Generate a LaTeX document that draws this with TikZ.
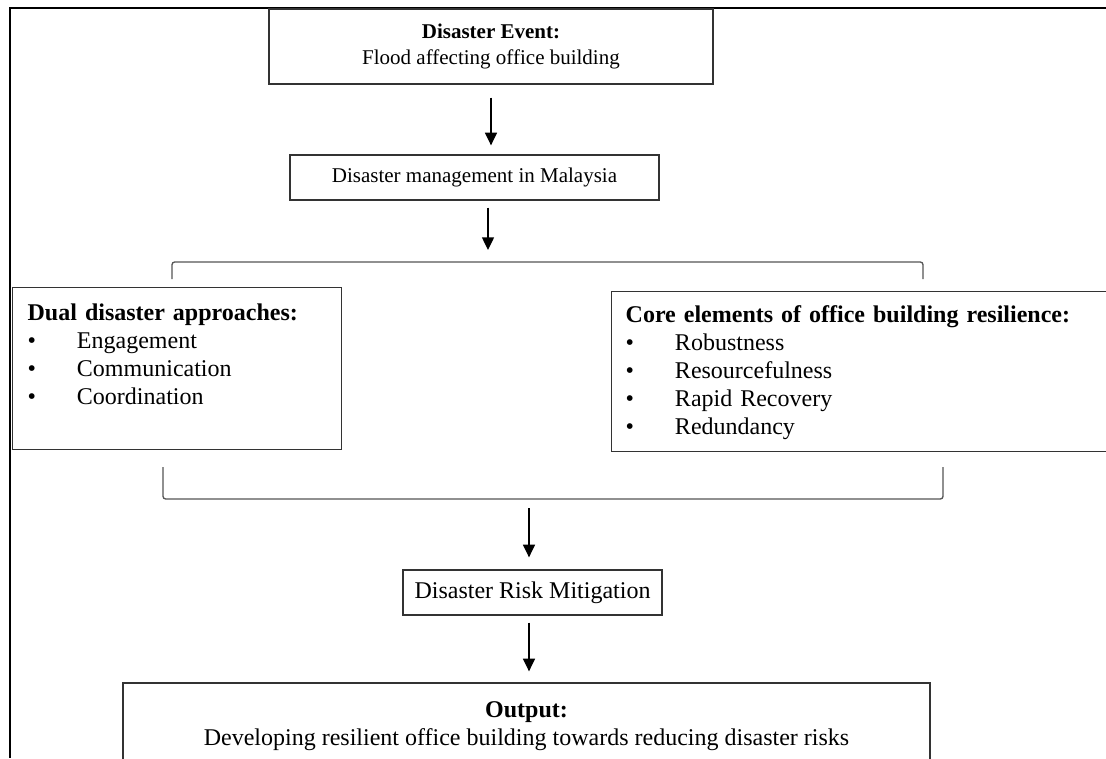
\documentclass[tikz,border=0pt]{standalone}
\usepackage{fontspec}
\setmainfont{Liberation Serif}
\usetikzlibrary{arrows.meta}

\newcommand{\bigtext}{\fontsize{18}{21}\selectfont}
\newcommand{\smalltext}{\fontsize{15.75}{20}\selectfont}
\newcommand{\itm}[1]{\makebox[37pt][l]{\textbullet}#1}

\tikzset{every picture/.style={line width=0.75pt}}
\tikzset{
  box/.style={draw={rgb, 255:red, 51; green, 51; blue, 51}, line width=1pt, inner sep=0pt, align=center},
  listbox/.style={draw={rgb, 255:red, 51; green, 51; blue, 51}, line width=1pt, anchor=north west, align=left,
    font=\bigtext, inner xsep=11.25pt, inner ysep=10pt, text depth=86.75pt},
  flow/.style={-{Triangle[width=9pt,length=9.5pt]}, line width=1pt},
  bracket/.style={draw={rgb, 255:red, 85; green, 85; blue, 85}, line width=1pt, rounded corners=2pt},
  outline/.style={line width=2pt}
}

\begin{document}
\begin{tikzpicture}[x=0.75pt,y=0.75pt,yscale=-1,xscale=1]
\path[use as bounding box, clip] (0,0) rectangle (1106,758);

%Page frame
\draw[outline] (9,8) -- (1106,8);
\draw[outline] (10,7) -- (10,758);

%Event and management
\node[box, minimum width=333pt, minimum height=56.25pt, font=\smalltext] (event) at (491,46.5)
  {\textbf{Disaster Event:}\\Flood affecting office building};
\node[box, minimum width=276.75pt, minimum height=33.75pt, font=\smalltext] (mgmt) at (474.5,177.5)
  {Disaster management in Malaysia};

%Two groups
\node[listbox, text width=224.25pt, text height=14.75pt] (dual) at (12,287)
  {\textbf{Dual disaster approaches:}\\\itm{Engagement}\\\itm{Communication}\\\itm{Coordination}};
\node[listbox, text width=351.75pt, text height=13.25pt, inner xsep=10.5pt] (core) at (611,291)
  {\textbf{Core elements of office building resilience:}\\\itm{Robustness}\\\itm{Resourcefulness}\\\itm{Rapid Recovery}\\\itm{Redundancy}};

%Mitigation and output
\node[box, minimum width=194.25pt, minimum height=33.75pt, font=\bigtext] (drm) at (532.5,592.5)
  {Disaster Risk Mitigation};
\node[box, minimum width=605.25pt, minimum height=64.5pt, font=\bigtext] (output) at (526.5,726)
  {\textbf{Output:}\\Developing resilient office building towards reducing disaster risks};

%Brackets
\coordinate (topbr) at (488,262);
\coordinate (botbr) at (529,499);
\draw[bracket] (172,279) |- (topbr) -| (923,279);
\draw[bracket] (163,467) |- (botbr) -| (943,467);

%Arrows
\draw[flow, shorten <=9.75pt, shorten >=6.75pt] (event.south) -- (event.south |- mgmt.north);
\draw[flow, shorten <=5.25pt, shorten >=9pt] (mgmt.south -| topbr) -- (topbr);
\draw[flow, shorten <=6.75pt, shorten >=9pt] (botbr) -- (botbr |- drm.north);
\draw[flow, shorten <=5.25pt, shorten >=8.25pt] (drm.south -| botbr) -- (botbr |- output.north);

\end{tikzpicture}
\end{document}
